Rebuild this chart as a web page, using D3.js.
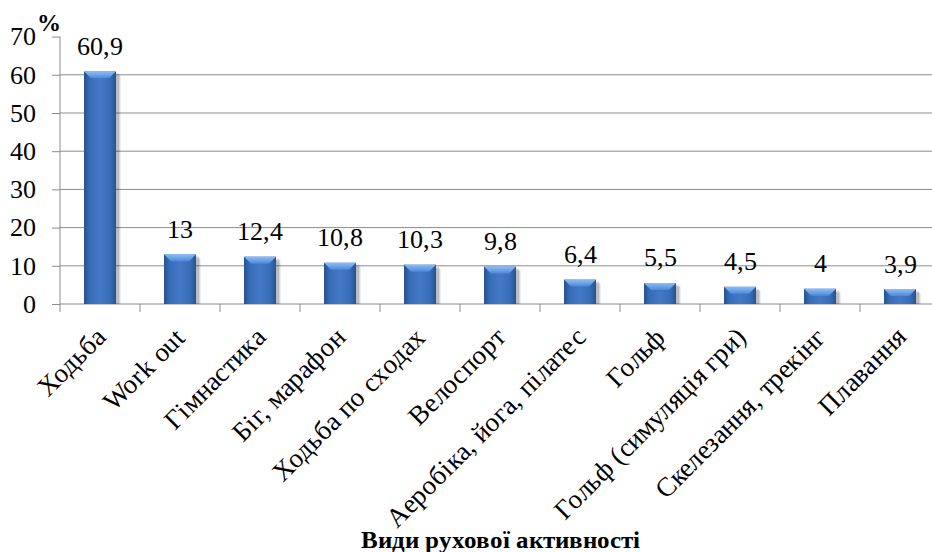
<!DOCTYPE html>
<html>
<head>
<meta charset="utf-8">
<script src="https://cdn.jsdelivr.net/npm/d3@7/dist/d3.min.js"></script>
<style>
  @font-face {
    font-family: "ChartSerif";
    src: local("Liberation Serif"), local("LiberationSerif"), local("LiberationSerif-Regular"), local("Tinos");
    font-weight: 400;
    font-style: normal;
  }
  @font-face {
    font-family: "ChartSerif";
    src: local("Liberation Serif Bold"), local("LiberationSerif-Bold"), local("Tinos Bold");
    font-weight: 700;
    font-style: normal;
  }
  html, body { margin: 0; padding: 0; background: #fff; }
  svg { display: block; }
</style>
</head>
<body>
<svg id="chart" width="932" height="552"></svg>
<script>
// Види рухової активності, %
const categories = [
  "Ходьба", "Work out", "Гімнастика", "Біг, марафон", "Ходьба по сходах",
  "Велоспорт", "Аеробіка, йога, пілатес", "Гольф", "Гольф (симуляція гри)",
  "Скелезання, трекінг", "Плавання"
];
const values = [60.9, 13, 12.4, 10.8, 10.3, 9.8, 6.4, 5.5, 4.5, 4, 3.9];
const valueLabels = ["60,9", "13", "12,4", "10,8", "10,3", "9,8", "6,4", "5,5", "4,5", "4", "3,9"];
const yTicks = [0, 10, 20, 30, 40, 50, 60, 70];
const yUnit = "%";
const xTitle = "Види рухової активності";

const svg = d3.select("#chart");
const W = 932;
const m = { left: 60, right: 940, top: 36.6, bottom: 304 };
const FONT = '"ChartSerif", "Liberation Serif", "DejaVu Serif", serif';
const gridColor = "#8c8c8c";

// apply the serif face to a text selection
function serif(sel, size, bold) {
  sel.style("font-family", FONT).style("font-size", size + "px")
    .style("font-weight", bold ? "700" : "400").attr("fill", "#000");
  return sel;
}

const x = d3.scaleBand().domain(categories).range([m.left, m.right]).paddingInner(0.6).paddingOuter(0.3);
const xb = d3.scaleBand().domain(categories).range([m.left, m.right]);
const y = d3.scaleLinear().domain([0, 70]).range([m.bottom, m.top]);

const defs = svg.append("defs");
const side = defs.append("linearGradient").attr("id", "barBody").attr("x1", 0).attr("x2", 1).attr("y1", 0).attr("y2", 0);
side.append("stop").attr("offset", "0%").attr("stop-color", "#25548f");
side.append("stop").attr("offset", "18%").attr("stop-color", "#386cb8");
side.append("stop").attr("offset", "50%").attr("stop-color", "#4278c6");
side.append("stop").attr("offset", "82%").attr("stop-color", "#386cb8");
side.append("stop").attr("offset", "100%").attr("stop-color", "#25548f");
const topFace = defs.append("linearGradient").attr("id", "barTop").attr("x1", 0).attr("x2", 0).attr("y1", 0).attr("y2", 1);
topFace.append("stop").attr("offset", "0%").attr("stop-color", "#8dbdf5");
topFace.append("stop").attr("offset", "100%").attr("stop-color", "#4d89da");

// horizontal gridlines
svg.append("g").selectAll("line").data(yTicks.filter(t => t > 0 && t < 70)).join("line")
  .attr("x1", m.left).attr("x2", W).attr("y1", d => y(d)).attr("y2", d => y(d))
  .attr("stroke", gridColor).attr("stroke-width", 1);

// y axis
const yAxis = svg.append("g").attr("transform", `translate(${m.left},0)`)
  .call(d3.axisLeft(y).tickValues(yTicks).tickSize(8).tickPadding(16).tickFormat(d3.format("d")));
yAxis.attr("font-family", null).attr("font-size", null);
yAxis.select(".domain").attr("stroke", gridColor).attr("d", `M0,${m.top}V${m.bottom}`);
yAxis.selectAll(".tick line").attr("stroke", gridColor);
serif(yAxis.selectAll(".tick text"), 26);

// x axis
const xAxis = svg.append("g").attr("transform", `translate(0,${m.bottom})`);
xAxis.append("line").attr("x1", m.left).attr("x2", W).attr("y1", 0).attr("y2", 0).attr("stroke", gridColor);
xAxis.selectAll("line.tick").data(categories).join("line").attr("class", "tick")
  .attr("x1", d => xb(d)).attr("x2", d => xb(d)).attr("y1", 0).attr("y2", 8)
  .attr("stroke", gridColor);

// bars: soft shadow, body and bevelled top
const bars = svg.append("g").selectAll("g").data(categories).join("g");
[[5, 0.07], [4, 0.09], [3, 0.12]].forEach(([o, a]) => {
  bars.append("rect")
    .attr("x", d => x(d) + o).attr("y", (d, i) => y(values[i]) + o - 1)
    .attr("width", x.bandwidth()).attr("height", (d, i) => m.bottom - y(values[i]) - o + 1)
    .attr("fill", "#000").attr("opacity", a);
});
bars.append("rect")
  .attr("x", d => x(d)).attr("y", (d, i) => y(values[i]))
  .attr("width", x.bandwidth()).attr("height", (d, i) => m.bottom - y(values[i]))
  .attr("fill", "url(#barBody)");
const bev = 7;
bars.append("path")
  .attr("d", (d, i) => {
    const x0 = x(d), x1 = x(d) + x.bandwidth(), t = y(values[i]);
    return `M${x0},${t}L${x1},${t}L${x1 - bev},${t + bev}L${x0 + bev},${t + bev}Z`;
  })
  .attr("fill", "url(#barTop)");

// value labels
serif(svg.append("g").selectAll("text").data(categories).join("text")
  .attr("x", d => x(d) + x.bandwidth() / 2)
  .attr("y", (d, i) => y(values[i]) - 16.5)
  .attr("text-anchor", "middle")
  .text((d, i) => valueLabels[i]), 26);

// category labels
serif(svg.append("g").selectAll("text").data(categories).join("text")
  .attr("transform", d => `translate(${xb(d) + xb.bandwidth() / 2 + 7},${m.bottom + 35}) rotate(-45)`)
  .attr("text-anchor", "end")
  .text(d => d), 27);

// unit and axis title
serif(svg.append("text").attr("x", 37).attr("y", 31).text(yUnit), 24, true);
serif(svg.append("text").attr("x", (m.left + m.right) / 2).attr("y", 548).attr("text-anchor", "middle")
  .text(xTitle), 25, true);
</script>
</body>
</html>
